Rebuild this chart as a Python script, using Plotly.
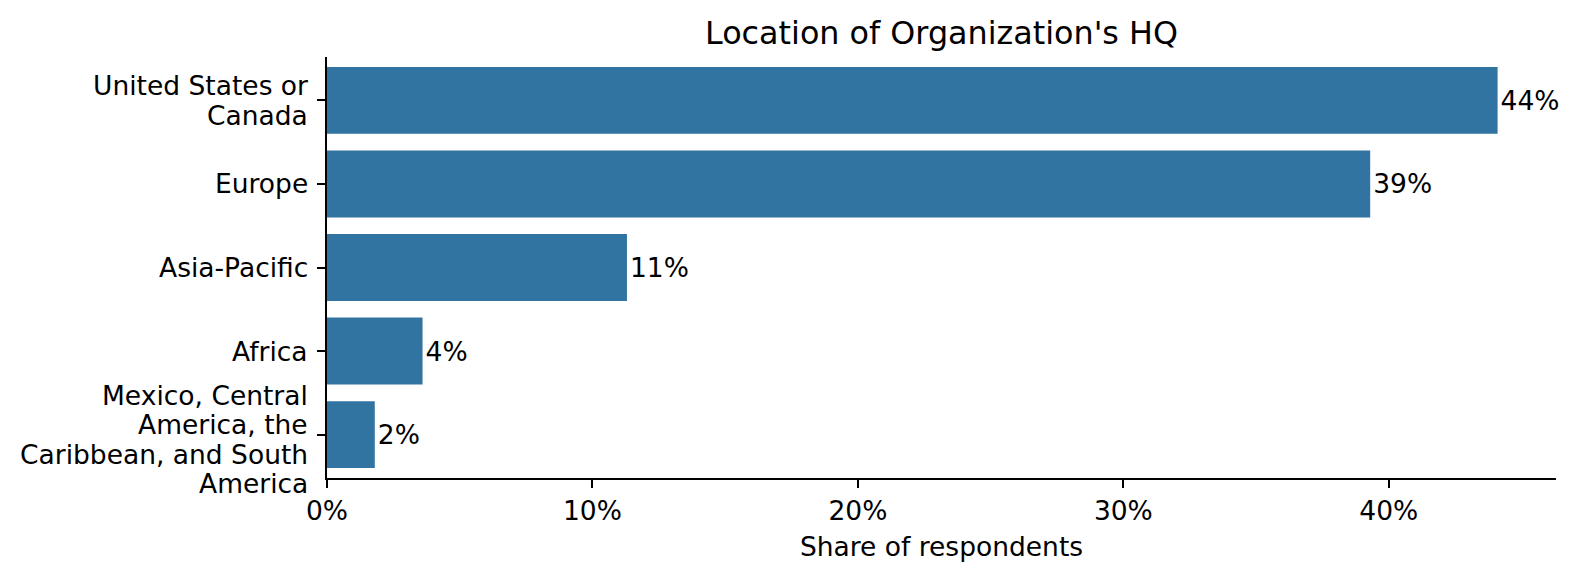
import plotly.graph_objects as go

categories = ["United States or<br>Canada", "Europe", "Asia-Pacific", "Africa",
              "Mexico, Central<br>America, the<br>Caribbean, and South<br>America"]
shares = [44.1, 39.3, 11.3, 3.6, 1.8]
labels = ["44%", "39%", "11%", "4%", "2%"]
tick_vals = [0, 10, 20, 30, 40]
tick_text = ["0%", "10%", "20%", "30%", "40%"]

FONT = "DejaVu Sans"
FS = 26.5
LINE_H = 29.5

fig = go.Figure(go.Bar(
    x=shares, y=categories, orientation="h",
    marker=dict(color="#3274A1", line=dict(width=0)),
    width=0.8,
    text=labels, textposition="outside", cliponaxis=False,
    textfont=dict(family=FONT, size=FS, color="black"),
))

# y tick labels drawn as annotations (one per line) for tighter line spacing
for cat in categories:
    lines = cat.split("<br>")
    n = len(lines)
    for j, ln in enumerate(lines):
        fig.add_annotation(
            xref="paper", x=0, xanchor="right", xshift=-17,
            yref="y", y=cat, yanchor="middle",
            yshift=((n - 1) / 2 - j) * LINE_H - (5 if n > 2 else 0),
            text=ln, showarrow=False,
            font=dict(family=FONT, size=FS, color="black"),
        )

fig.update_layout(
    width=1578, height=580,
    paper_bgcolor="white", plot_bgcolor="white",
    margin=dict(l=327, r=22, t=57, b=102, autoexpand=False),
    font=dict(family=FONT, size=FS, color="black"),
    title=dict(text="Location of Organization's HQ", x=(327 + 1556) / 2 / 1578,
               xref="container", xanchor="center", y=1 - 33 / 580,
               yanchor="middle",
               font=dict(family=FONT, size=31.8, color="black")),
    showlegend=False, bargap=0.2,
)
fig.update_xaxes(
    range=[0, 46.3], tickvals=tick_vals, ticktext=tick_text,
    showline=True, linecolor="black", linewidth=2, mirror=False,
    ticks="outside", ticklen=8, tickcolor="black", tickwidth=2,
    showgrid=False, zeroline=False,
    title=dict(text="Share of respondents", standoff=13,
               font=dict(family=FONT, size=FS)),
    tickfont=dict(family=FONT, size=FS),
    automargin=False,
)
fig.update_yaxes(
    categoryorder="array", categoryarray=categories,
    range=[4.52, -0.52], showticklabels=False,
    showline=True, linecolor="black", linewidth=2,
    ticks="outside", ticklen=8, tickcolor="black", tickwidth=2,
    showgrid=False, zeroline=False,
    automargin=False,
)
fig.write_html("out.html", config={"displayModeBar": False},
               post_script="document.body.style.margin='0';document.body.style.overflow='hidden';")
